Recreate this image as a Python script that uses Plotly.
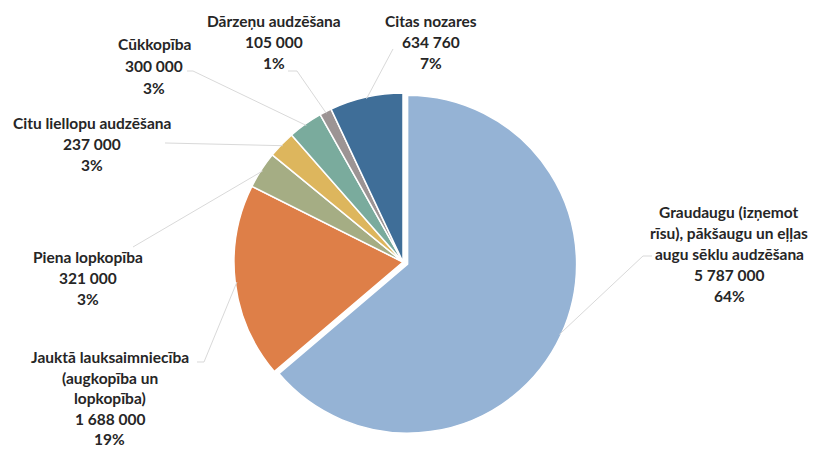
import math
import plotly.graph_objects as go

# ---- data ----
labels = [
    "Graudaugu (izņemot rīsu), pākšaugu un eļļas augu sēklu audzēšana",
    "Jauktā lauksaimniecība (augkopība un lopkopība)",
    "Piena lopkopība",
    "Citu liellopu audzēšana",
    "Cūkkopība",
    "Dārzeņu audzēšana",
    "Citas nozares",
]
values = [5787000, 1688000, 321000, 237000, 300000, 105000, 634760]
value_text = ["5 787 000", "1 688 000", "321 000", "237 000", "300 000", "105 000", "634 760"]
pct_text = ["64%", "19%", "3%", "3%", "3%", "1%", "7%"]
label_lines = [
    ["Graudaugu (izņemot", "rīsu), pākšaugu un eļļas", "augu sēklu audzēšana"],
    ["Jauktā lauksaimniecība", "(augkopība un", "lopkopība)"],
    ["Piena lopkopība"],
    ["Citu liellopu audzēšana"],
    ["Cūkkopība"],
    ["Dārzeņu audzēšana"],
    ["Citas nozares"],
]
colors = ["#95B3D5", "#DE7F48", "#A5AD84", "#DDB65D", "#7AAB9D", "#9C9494", "#3F6E98"]
pulls = [0.03, 0, 0, 0, 0, 0, 0]

# ---- layout geometry (pixels in the 818x449 window) ----
OFF = 8  # default page body margin
W, H = 818 - OFF, 449 - OFF
cx, cy, R = 403, 262, 169
maxpull = max(pulls)
half = R * (1 + maxpull)

def px(x):
    return (x - OFF) / W

def py(y):
    return 1 - (y - OFF) / H

# label placement: (center x, first line y, line step) and leader start points
label_pos = [
    (729, 212, 21), (110, 357, 20.5), (88, 257, 21), (92, 123, 21),
    (154, 44, 22), (274, 21, 21), (431, 21, 21),
]
leader_start = [
    [(652, 256), (643, 256)],
    [(197, 362), (204, 362)],
    [(133, 247)],
    [(165, 143)],
    [(187, 71), (193, 71)],
    [(288, 71), (297, 71)],
    [(393, 49)],
]

fig = go.Figure(go.Pie(
    labels=labels, values=values, sort=False, direction="clockwise", rotation=0,
    marker=dict(colors=colors, line=dict(color="white", width=1.5)),
    pull=pulls, textinfo="none", hoverinfo="label+value+percent",
    showlegend=False,
    domain=dict(x=[px(cx - half), px(cx + half)], y=[py(cy + half), py(cy - half)]),
))

total = sum(values)
annotations = []
shapes = []
cum = 0
for i, v in enumerate(values):
    a0 = cum / total * 2 * math.pi
    cum += v
    a1 = cum / total * 2 * math.pi
    mid = (a0 + a1) / 2
    dx, dy = math.sin(mid), -math.cos(mid)
    ox, oy = cx + pulls[i] * R * dx, cy + pulls[i] * R * dy
    ex, ey = ox + R * 0.99 * dx, oy + R * 0.99 * dy
    pts = leader_start[i] + [(ex, ey)]
    path = "M " + " L ".join(f"{px(x):.5f},{py(y):.5f}" for x, y in pts)
    shapes.append(dict(type="path", xref="paper", yref="paper", path=path,
                       line=dict(color="#D9D9D9", width=1)))
    lx, ly, step = label_pos[i]
    lines = label_lines[i] + [value_text[i], pct_text[i]]
    for k, t in enumerate(lines):
        annotations.append(dict(
            x=px(lx), y=py(ly + k * step), xref="paper", yref="paper",
            text=f"<b>{t}</b>", showarrow=False, xanchor="center", yanchor="middle",
            font=dict(family="Lato, Carlito, Calibri, sans-serif", size=15.5, color="#262626"),
        ))

fig.update_layout(
    width=W, height=H, margin=dict(l=0, r=0, t=0, b=0),
    paper_bgcolor="white", plot_bgcolor="white",
    annotations=annotations, shapes=shapes,
)
fig.write_html("out.html")
